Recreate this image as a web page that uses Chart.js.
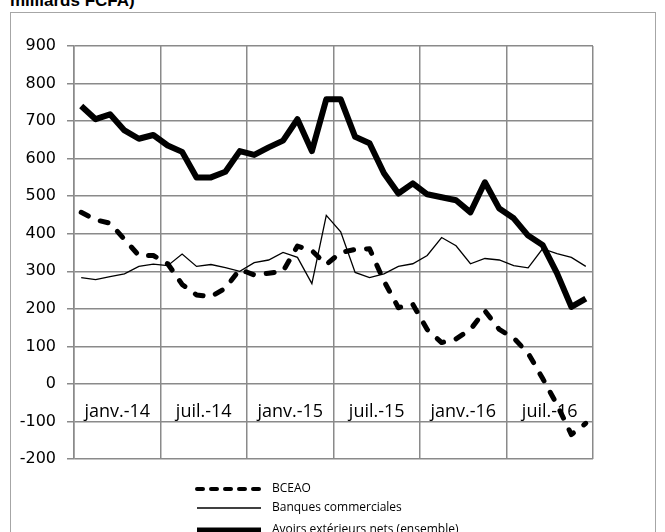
<!DOCTYPE html>
<html lang="fr">
<head>
<meta charset="utf-8">
<title>Avoirs extérieurs nets</title>
<script src="https://cdn.jsdelivr.net/npm/chart.js@4.4.1/dist/chart.umd.min.js"></script>
<style>
  html, body { margin: 0; padding: 0; background: #fff; }
  body { width: 665px; height: 532px; position: relative; overflow: hidden; }
  #titre {
    position: absolute; left: 10px; top: -9px;
    font: bold 17px "Liberation Sans", Arial, sans-serif; color: #000;
    white-space: nowrap;
  }
  #cadre {
    position: absolute; left: 10px; top: 12px; width: 646px; height: 600px;
    border: 1.5px solid #a6a6a6; box-sizing: border-box;
  }
  #zone { position: absolute; left: 0; top: 0; }
</style>
</head>
<body>
<div id="titre">milliards FCFA)</div>
<div id="cadre"></div>
<canvas id="zone" width="665" height="532"></canvas>
<script>
// Séries mensuelles, janv. 2014 à déc. 2016 (milliards FCFA)
const moisCourts = ['janv.', 'févr.', 'mars', 'avr.', 'mai', 'juin', 'juil.', 'août', 'sept.', 'oct.', 'nov.', 'déc.'];
const annees = ['14', '15', '16'];
const categories = [];
annees.forEach(a => moisCourts.forEach(m => categories.push(m + '-' + a)));

const valeursBceao = [457, 437, 428, 385, 342, 342, 320, 265, 237, 232, 255, 305,
                      290, 295, 300, 367, 355, 318, 350, 358, 360, 274, 203, 212,
                      145, 110, 120, 145, 195, 145, 122, 82, 15, -55, -135, -105];
const valeursBanques = [283, 278, 286, 293, 313, 319, 315, 346, 313, 318, 310, 300,
                        323, 330, 350, 337, 267, 449, 405, 297, 283, 293, 313, 320,
                        342, 390, 368, 320, 334, 330, 315, 309, 360, 347, 337, 313];
const valeursAvoirs = [740, 705, 718, 675, 653, 663, 635, 618, 550, 550, 565, 620,
                       610, 630, 648, 705, 620, 758, 758, 658, 641, 561, 507, 534,
                       505, 497, 489, 457, 537, 467, 441, 395, 370, 295, 205, 227];

const graduationsY = { min: -200, max: 900, pas: 100 };

const GRILLE = '#8a8a8a';

// légende verticale sous le graphique (une ligne par série)
const legendeVerticale = {
  id: 'legendeVerticale',
  afterDraw(chart) {
    const ctx = chart.ctx;
    const lignesY = [489, 508, 530];
    ctx.save();
    chart.data.datasets.forEach((ds, i) => {
      const y = lignesY[i];
      ctx.beginPath();
      ctx.strokeStyle = ds.borderColor;
      ctx.lineWidth = ds.legendeEpaisseur;
      ctx.lineCap = ds.borderDash ? 'round' : 'butt';
      ctx.setLineDash(ds.borderDash ? [6, 8] : []);
      ctx.moveTo(197, y);
      ctx.lineTo(261, y);
      ctx.stroke();
      ctx.setLineDash([]);
      ctx.fillStyle = '#000';
      ctx.font = '12px "Open Sans", sans-serif';
      ctx.textBaseline = 'middle';
      ctx.textAlign = 'left';
      ctx.fillText(ds.label, 272, y);
    });
    ctx.restore();
  }
};

let miGrafico = new Chart(document.getElementById('zone').getContext('2d'), {
  type: 'line',
  data: {
    labels: categories,
    datasets: [
      {
        label: 'BCEAO',
        data: valeursBceao,
        borderColor: '#000',
        borderWidth: 5,
        borderDash: [8, 13],
        borderCapStyle: 'round',
        borderJoinStyle: 'round',
        legendeEpaisseur: 4,
        order: 0
      },
      {
        label: 'Banques commerciales',
        data: valeursBanques,
        borderColor: '#000',
        borderWidth: 1.3,
        legendeEpaisseur: 1.5,
        order: 2
      },
      {
        label: 'Avoirs extérieurs nets (ensemble)',
        data: valeursAvoirs,
        borderColor: '#000',
        borderWidth: 6,
        borderJoinStyle: 'round',
        legendeEpaisseur: 5,
        order: 1
      }
    ]
  },
  plugins: [legendeVerticale],
  options: {
    responsive: false,
    animation: false,
    layout: { padding: { left: 0, right: 72, top: 46, bottom: 73 } },
    elements: {
      point: { radius: 0, hoverRadius: 0 },
      line: { tension: 0, fill: false }
    },
    plugins: {
      legend: { display: false },
      tooltip: { enabled: false }
    },
    scales: {
      x: {
        type: 'category',
        position: { y: 0 },
        offset: true,
        grid: {
          offset: true,
          drawTicks: false,
          lineWidth: 1.5,
          // une ligne verticale tous les six mois
          color: c => (c.index === undefined || c.index % 6 === 0) ? GRILLE : 'rgba(0,0,0,0)'
        },
        border: { display: false },
        ticks: {
          autoSkip: false,
          minRotation: 0,
          maxRotation: 0,
          padding: 17,
          labelOffset: -7.2,
          color: '#000',
          font: { family: '"Open Sans", sans-serif', size: 18 },
          callback: (v, i) => i % 6 === 3 ? categories[i - 3] : ''
        }
      },
      y: {
        min: graduationsY.min,
        max: graduationsY.max,
        ticks: {
          stepSize: graduationsY.pas,
          padding: 11,
          color: '#000',
          font: { family: '"DejaVu Sans", sans-serif', size: 16 }
        },
        grid: { color: GRILLE, lineWidth: 1.5, tickLength: 7 },
        border: { color: GRILLE, width: 1.5 },
        afterFit: s => { s.width = 74; }
      }
    }
  }
});
</script>
</body>
</html>
